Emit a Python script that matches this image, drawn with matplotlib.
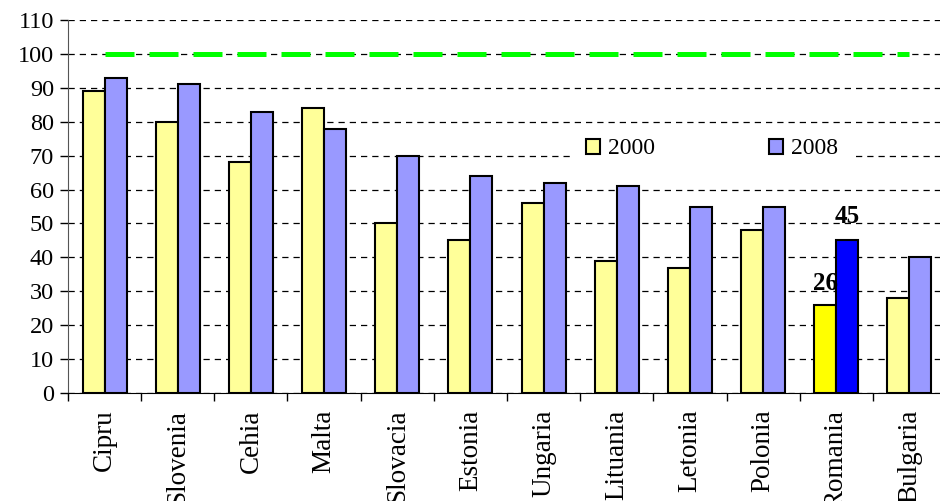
import numpy as np
import matplotlib.pyplot as plt
from matplotlib.patches import Patch

tari = ["Cipru", "Slovenia", "Cehia", "Malta", "Slovacia", "Estonia",
        "Ungaria", "Lituania", "Letonia", "Polonia", "Romania", "Bulgaria"]
val_2000 = [89, 80, 68, 84, 50, 45, 56, 39, 37, 48, 26, 28]
val_2008 = [93, 91, 83, 78, 70, 64, 62, 61, 55, 55, 45, 40]
nivel_ue = 100
ani = ["2000", "2008"]

plt.rcParams['font.family'] = ['Liberation Serif', 'DejaVu Serif']

fig = plt.figure(figsize=(9.4, 5.01), dpi=100)
ax = fig.add_axes([68/940, 108/501, 878/940, 373/501])

x = np.arange(len(tari))
w = 0.3
c1 = ["#FFFF99"] * len(tari)
c2 = ["#9999FF"] * len(tari)
# Romania evidentiata
ir = tari.index("Romania")
c1[ir] = "#FFFF00"
c2[ir] = "#0000FF"

ax.bar(x - w/2, val_2000, w, color=c1, edgecolor="black", linewidth=1.5, zorder=3)
ax.bar(x + w/2, val_2008, w, color=c2, edgecolor="black", linewidth=1.5, zorder=3)

# linia verde 100
ax.plot([0, 11], [nivel_ue, nivel_ue], color="#00FF00", linewidth=3.6,
        dashes=(5.8, 3), zorder=4)

ax.text(ir - w/2, val_2000[ir] + 4.4, str(val_2000[ir]), ha="center", va="baseline",
        fontsize=18, fontweight="bold", zorder=5)
ax.text(ir + w/2, val_2008[ir] + 5.2, str(val_2008[ir]), ha="center", va="baseline",
        fontsize=18, fontweight="bold", zorder=5)

ax.set_xlim(-0.5, len(tari) - 0.5)
ax.set_ylim(0, 110)
ax.set_yticks(range(0, 111, 10))
ax.set_xticks(x)
ax.set_xticklabels(tari, rotation=90, fontsize=19.5)
ax.tick_params(axis="x", length=0, pad=12)
ax.set_xticks(np.arange(-0.5, len(tari), 1), minor=True)
ax.tick_params(axis="x", which="minor", length=6, direction="out", width=1)
ax.tick_params(axis="y", labelsize=17.5, length=6, width=1, pad=4)

ax.yaxis.grid(True, color="black", linestyle=(0, (5, 4)), linewidth=0.9, zorder=0)
ax.set_axisbelow(True)
for s in ["top", "right"]:
    ax.spines[s].set_visible(False)
ax.spines["left"].set_color("#555555")

h = [Patch(facecolor="#FFFF99", edgecolor="black", linewidth=1.5),
     Patch(facecolor="#9999FF", edgecolor="black", linewidth=1.5)]
leg = fig.legend(h, ani, loc="center", bbox_to_anchor=(712/940, 1 - 149/501), ncol=2,
                 fontsize=17, handlelength=0.6, handleheight=0.6, handletextpad=0.35,
                 columnspacing=4.8, frameon=True, facecolor="white", edgecolor="none",
                 framealpha=1, borderpad=0.6, fancybox=False, borderaxespad=0)

fig.savefig("out.png", dpi=100)
